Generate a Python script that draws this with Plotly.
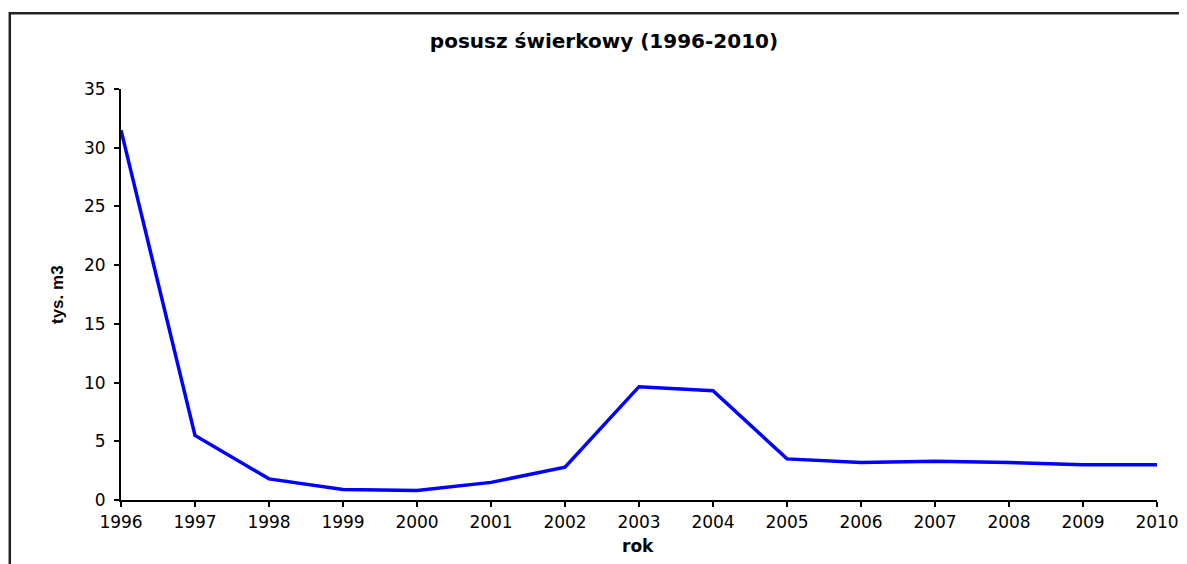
import plotly.graph_objects as go

years = [1996, 1997, 1998, 1999, 2000, 2001, 2002, 2003, 2004, 2005, 2006, 2007, 2008, 2009, 2010]
values = [31.5, 5.5, 1.8, 0.9, 0.8, 1.5, 2.8, 9.65, 9.3, 3.5, 3.2, 3.3, 3.2, 3.0, 3.0]
y_ticks = [0, 5, 10, 15, 20, 25, 30, 35]

# the page body has an 8px margin, so the figure is sized to fit the window
OFF = 8
W, H = 1179, 556
L, R, T, B = 113, 30, 81, 64
pw, ph = W - L - R, H - T - B

def px_x(px):  # page pixel -> paper x
    return (px - OFF - L) / pw

def px_y(py):  # page pixel -> paper y
    return (H - B - (py - OFF)) / ph

FONT = "DejaVu Sans, Arial, sans-serif"
FONT_AR = "Liberation Sans, Arial, sans-serif"

fig = go.Figure()
fig.add_trace(go.Scatter(x=years, y=values, mode="lines",
                         line=dict(color="#0000FF", width=3.5), hoverinfo="x+y"))

axis_common = dict(showgrid=False, zeroline=False, showline=True, linecolor="black",
                   linewidth=2, ticks="outside", ticklen=5, tickwidth=1.8, automargin=False,
                   tickcolor="black", tickfont=dict(family=FONT, size=17, color="black"))

fig.update_layout(
    width=W, height=H,
    margin=dict(l=L, r=R, t=T, b=B, autoexpand=False),
    paper_bgcolor="white", plot_bgcolor="white",
    showlegend=False,
    title=dict(text="<b>posusz świerkowy (1996-2010)</b>",
               x=(604 - OFF) / W, xanchor="center",
               y=1 - (41 - OFF) / H, yanchor="middle",
               font=dict(family=FONT, size=20, color="black")),
    xaxis=dict(range=[1996, 2010], tickvals=years, ticktext=[str(y) for y in years],
               ticklabelstandoff=1, **axis_common),
    yaxis=dict(range=[0, 35], tickvals=y_ticks, ticklabelstandoff=5, **axis_common),
    xaxis2=dict(range=[1996, 2010], tickvals=years, overlaying="x", anchor="y",
                showticklabels=False, showline=False, showgrid=False, zeroline=False,
                ticks="inside", ticklen=5, tickwidth=1.8, tickcolor="black", automargin=False),
    yaxis2=dict(range=[0, 35], tickvals=y_ticks, overlaying="y", anchor="x",
                showticklabels=False, showline=False, showgrid=False, zeroline=False,
                ticks="inside", ticklen=5, tickwidth=1.8, tickcolor="black", automargin=False),
)

fig.add_annotation(text="<b>rok</b>", xref="paper", yref="paper", x=px_x(638), y=px_y(546),
                   showarrow=False, xanchor="center", yanchor="middle",
                   font=dict(family=FONT, size=17, color="black"))
fig.add_annotation(text="<b>tys. m3</b>", xref="paper", yref="paper", x=px_x(57), y=px_y(295),
                   showarrow=False, xanchor="center", yanchor="middle", textangle=-90,
                   font=dict(family=FONT_AR, size=17, color="black"))

# outer chart frame (cropped on the right and bottom)
fig.add_shape(type="path", xref="paper", yref="paper",
              path=f"M {px_x(9.8)},{px_y(620)} L {px_x(9.8)},{px_y(13.3)} L {px_x(1230)},{px_y(13.3)}",
              line=dict(color="#222222", width=2.5))

fig.write_html("out.html")
